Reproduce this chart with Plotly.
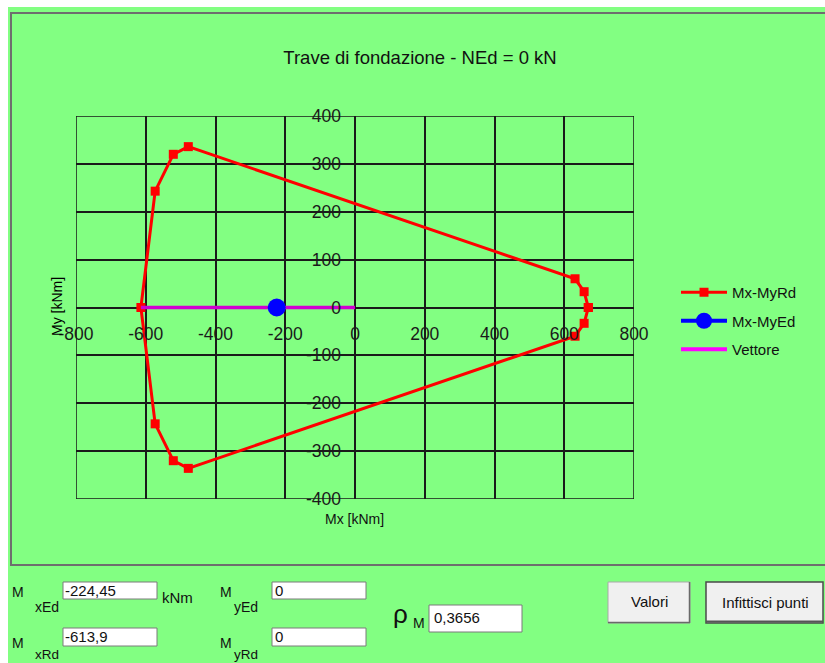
import plotly.graph_objects as go

# --- data -------------------------------------------------------------
# resistance domain Mx-MyRd (closed polygon), kNm
mx_rd = [669, 657, 631, -478, -521, -573, -613.9, -573, -521, -478, 631, 657, 669]
my_rd = [0, 33, 60, 336, 320, 243, 0, -243, -320, -336, -60, -33, 0]

# design point Mx-MyEd
mx_ed = [-224.45]
my_ed = [0]

# vector from origin to the domain boundary
vet_x = [0, -613.9]
vet_y = [0, 0]

x_ticks = [-800, -600, -400, -200, 0, 200, 400, 600, 800]
x_tick_text = ["-800", "-600", "-400", "-200", "0", "200", "400", "600", "800"]
y_ticks = [-400, -300, -200, -100, 0, 100, 200, 300, 400]
y_tick_text = ["-400", "-300", "-200", "-100", "0", "100", "200", "300", "400"]

title_text = "Trave di fondazione - NEd = 0 kN"
rho_m = "0,3656"
mxed_txt = "-224,45"
mxrd_txt = "-613,9"
myed_txt = "0"
myrd_txt = "0"

# --- geometry helpers (pixels -> paper) ---------------------------------
W, H = 825, 663


def px(x):
    return x / W


def py(y):
    return 1 - y / H


GREEN = "#82FF82"
GRID = "#1a1a1a"
FONT = "Liberation Sans, Arial, sans-serif"

x_dom = [px(76), px(634)]
y_dom = [py(499), py(116)]

fig = go.Figure()

fig.add_trace(go.Scatter(
    x=mx_rd, y=my_rd, name="Mx-MyRd", mode="lines+markers",
    line=dict(color="#FF0000", width=3),
    marker=dict(symbol="square", size=9, color="#FF0000"),
    legendgroup="a",
))
fig.add_trace(go.Scatter(
    x=vet_x, y=vet_y, name="Vettore", mode="lines",
    line=dict(color="#D000D0", width=3.5),
    legendgroup="c", showlegend=False,
))
fig.add_trace(go.Scatter(
    x=mx_ed, y=my_ed, name="Mx-MyEd", mode="lines+markers",
    line=dict(color="#0000FF", width=4),
    marker=dict(symbol="circle", size=18, color="#0000FF"),
    legendgroup="b",
))
# legend entry for the vector, kept last in the legend
fig.add_trace(go.Scatter(
    x=[None], y=[None], name="Vettore", mode="lines",
    line=dict(color="#FF00FF", width=4),
    legendgroup="c",
))

axis_common = dict(
    showgrid=True, gridcolor=GRID, gridwidth=1.5,
    zeroline=True, zerolinecolor=GRID, zerolinewidth=1.5,
    showline=False, ticks="", anchor="free", automargin=False,
    tickfont=dict(family=FONT, size=17.5, color="#1a1a1a"),
    fixedrange=True, tickmode="array",
)

fig.update_layout(
    template="none",
    width=W, height=H,
    margin=dict(l=0, r=0, t=0, b=0, pad=0),
    paper_bgcolor="white",
    plot_bgcolor="rgba(0,0,0,0)",
    title=dict(text=title_text, x=px(420), y=py(58), xref="paper", yref="paper",
               xanchor="center", yanchor="middle",
               font=dict(family=FONT, size=18.5, color="#111111")),
    xaxis=dict(axis_common, range=[-800, 800], tickvals=x_ticks, ticktext=x_tick_text,
               domain=x_dom, position=(y_dom[0] + y_dom[1]) / 2, ticklabelstandoff=14),
    yaxis=dict(axis_common, range=[-400, 400], tickvals=y_ticks, ticktext=y_tick_text,
               domain=y_dom, position=(x_dom[0] + x_dom[1]) / 2, ticklabelstandoff=14),
    legend=dict(x=px(676), y=py(276), xanchor="left", yanchor="top",
                bgcolor="rgba(0,0,0,0)", font=dict(family=FONT, size=15, color="#111111"),
                traceorder="grouped", tracegroupgap=6, itemwidth=46),
    showlegend=True,
)

shapes = []
# window background and group frame
shapes.append(dict(type="rect", xref="paper", yref="paper", layer="below",
                   x0=px(8), x1=1.0, y0=0, y1=py(7), fillcolor=GREEN, line=dict(width=0)))
shapes.append(dict(type="rect", xref="paper", yref="paper", layer="below",
                   x0=px(11), x1=px(835), y0=py(565), y1=py(13),
                   line=dict(color="#6e6e6e", width=2), fillcolor="rgba(0,0,0,0)"))
# outer border of the plotting grid
shapes.append(dict(type="rect", xref="x", yref="y", layer="below",
                   x0=x_ticks[0], x1=x_ticks[-1], y0=y_ticks[0], y1=y_ticks[-1],
                   line=dict(color=GRID, width=1.5), fillcolor="rgba(0,0,0,0)"))


def textbox(x0, y0, x1, y1):
    shapes.append(dict(type="rect", xref="paper", yref="paper",
                       x0=px(x0), x1=px(x1), y0=py(y1), y1=py(y0),
                       fillcolor="white", line=dict(color="#7a7a7a", width=1)))


textbox(63, 582, 157, 599)
textbox(272, 582, 366, 599)
textbox(63, 628, 157, 646)
textbox(272, 628, 366, 646)
textbox(429, 605, 522, 632)

# buttons
shapes.append(dict(type="rect", xref="paper", yref="paper",
                   x0=px(608), x1=px(690), y0=py(623), y1=py(582),
                   fillcolor="#F0F0F0", line=dict(color="#a8a8a8", width=1)))
shapes.append(dict(type="line", xref="paper", yref="paper",
                   x0=px(608), x1=px(690), y0=py(622.5), y1=py(622.5),
                   line=dict(color="#696969", width=1.5)))
shapes.append(dict(type="line", xref="paper", yref="paper",
                   x0=px(689.5), x1=px(689.5), y0=py(623), y1=py(582),
                   line=dict(color="#696969", width=1.5)))
shapes.append(dict(type="rect", xref="paper", yref="paper",
                   x0=px(706), x1=px(823), y0=py(623), y1=py(582),
                   fillcolor="#F0F0F0", line=dict(color="#4a4a4a", width=1.5)))
shapes.append(dict(type="line", xref="paper", yref="paper",
                   x0=px(706), x1=px(823), y0=py(621.5), y1=py(621.5),
                   line=dict(color="#555555", width=2)))

fig.update_layout(shapes=shapes)

ann = []


def label(x, y, text, size=14, anchor="left", **kw):
    ann.append(dict(x=px(x), y=py(y), xref="paper", yref="paper", text=text,
                    showarrow=False, xanchor=anchor, yanchor="middle",
                    font=dict(family=FONT, size=size, color="#111111"), **kw))


# axis titles
label(354, 519, "Mx [kNm]", size=14, anchor="center")
ann.append(dict(x=px(57), y=py(307), xref="paper", yref="paper", text="My [kNm]",
                showarrow=False, xanchor="center", yanchor="middle", textangle=-90,
                font=dict(family=FONT, size=14, color="#000000")))

# input fields
label(10, 592, "M", 14)
label(33, 607, "xEd", 14)
label(63, 590, mxed_txt, 15)
label(160, 597, "kNm", 15)
label(218, 592, "M", 14)
label(232, 607, "yEd", 14)
label(273, 590, myed_txt, 15)

label(10, 643, "M", 14)
label(33, 654, "xRd", 13.5)
label(63, 636, mxrd_txt, 15)
label(218, 643, "M", 14)
label(232, 654, "yRd", 13.5)
label(273, 636, myrd_txt, 15)

label(391, 614, "ρ", 26)
label(411, 623, "M", 14)
label(432, 617, rho_m, 15)

label(649, 601, "Valori", 15, anchor="center")
label(765, 602, "Infittisci punti", 15, anchor="center")

fig.update_layout(annotations=ann)

fig.write_html("out.html")
